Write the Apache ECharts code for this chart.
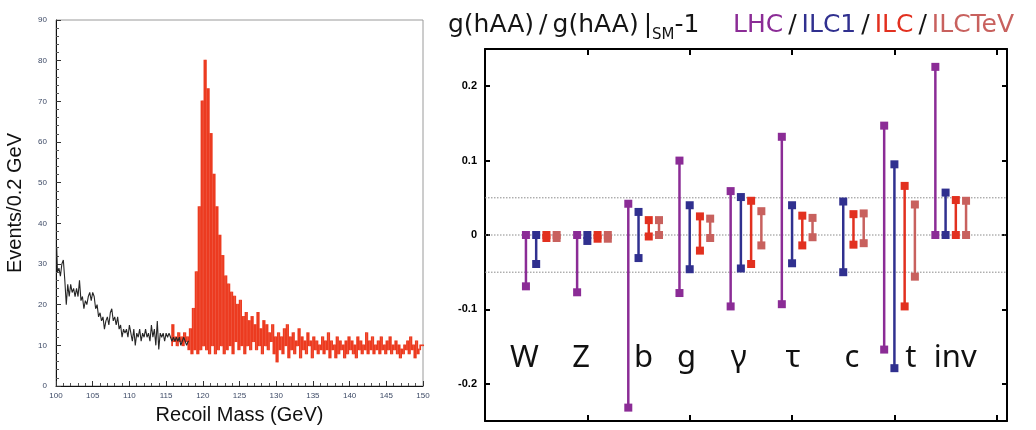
<!DOCTYPE html>
<html>
<head>
<meta charset="utf-8">
<script src="https://cdn.jsdelivr.net/npm/echarts@6/dist/echarts.min.js"></script>
<style>
  html, body { margin: 0; padding: 0; background: #fff; }
  #main { width: 1036px; height: 430px; }
</style>
</head>
<body>
<div id="main"></div>
<script>
// ---------- left panel: recoil mass histogram (Events / 0.2 GeV) ----------
var binWidth = 0.2;
var blackStart = 100.0;
var blackCounts = [
    34, 28, 29, 27, 30, 31, 26, 20, 25, 22,
    25, 23, 24, 22, 24, 22, 26, 21, 22, 19,
    21, 20, 22, 23, 21, 23, 22, 19, 20, 17,
    18, 16, 17, 14, 16, 17, 15, 18, 19, 16,
    17, 15, 17, 14, 15, 12, 14, 13, 14, 12,
    15, 13, 11, 14, 10, 13, 12, 14, 11, 13,
    12, 14, 12, 13, 11, 15, 12, 14, 10, 16,
    9, 13, 12, 13, 11, 13, 12, 13, 12, 11,
    12, 11, 12, 11, 12, 10, 11, 12, 11, 10, 11
];
var redStart = 115.6;
var redCounts = [
    10, 15, 11, 12, 10, 13, 11, 12, 10, 13,
    11, 12, 9, 14, 8, 19, 9, 28, 8, 44,
    9, 70, 10, 80, 9, 73, 8, 62, 10, 52,
    8, 44, 9, 37, 10, 32, 8, 27, 9, 25,
    10, 23, 8, 22, 11, 20, 9, 21, 10, 17,
    8, 18, 10, 16, 9, 17, 11, 15, 9, 18,
    10, 14, 8, 16, 10, 15, 9, 13, 11, 15,
    8, 12, 6, 13, 9, 12, 8, 14, 10, 15,
    7, 12, 9, 13, 8, 11, 10, 14, 7, 12,
    9, 11, 8, 13, 10, 11, 7, 12, 9, 11,
    8, 10, 9, 12, 8, 11, 9, 13, 7, 11,
    9, 10, 7, 12, 8, 11, 9, 10, 7, 11,
    8, 12, 9, 11, 8, 10, 7, 12, 9, 11,
    8, 10, 9, 13, 8, 11, 9, 12, 8, 10,
    9, 11, 8, 12, 9, 10, 8, 11, 9, 12,
    8, 10, 9, 11, 8, 10, 7, 9, 8, 10,
    9, 11, 8, 12, 9, 10, 7, 11, 8, 9,
    10, 10
];

// ---------- right panel: coupling deviations ----------
var channels = ['W', 'Z', 'b', 'g', '\u03b3', '\u03c4', 'c', 't', 'inv'];
var experiments = ['LHC', 'ILC1', 'ILC', 'ILCTeV'];
var lhcUp    = [0, 0, 0.042, 0.100, 0.059, 0.132, null, 0.147, 0.226];
var lhcDown  = [-0.069, -0.077, -0.232, -0.078, -0.096, -0.093, null, -0.154, 0];
var ilc1Up   = [0, 0, 0.031, 0.040, 0.051, 0.040, 0.045, 0.095, 0.057];
var ilc1Down = [-0.039, -0.008, -0.031, -0.046, -0.045, -0.038, -0.050, -0.179, 0];
var ilcUp    = [0, 0, 0.020, 0.025, 0.046, 0.026, 0.028, 0.066, 0.047];
var ilcDown  = [-0.004, -0.005, -0.002, -0.021, -0.039, -0.014, -0.013, -0.096, 0];
var tevUp    = [0, 0, 0.020, 0.022, 0.032, 0.023, 0.029, 0.041, 0.046];
var tevDown  = [-0.004, -0.005, 0, -0.004, -0.014, -0.003, -0.011, -0.056, 0];
var guideLevels = [0.05, 0, -0.05];
var yTicks = [-0.2, -0.1, 0, 0.1, 0.2];

// layout in x-axis units (one unit = one top/bottom tick)
var groupStart = 0.4, groupStep = 0.5, barStep = 0.1;
var labelX = [0.385, 0.94, 1.55, 1.97, 2.48, 3.01, 3.585, 4.16, 4.595];
var labelY = -0.166;

var colors = ['#8b2c96', '#30308f', '#e2301f', '#c8615e'];

function steps(start, counts) {
    var out = [];
    for (var i = 0; i < counts.length; i++) {
        out.push([start + (i + 0.5) * binWidth, counts[i]]);
    }
    return out;
}

// each item: bin centre, this bin, next bin  -> the riser between them
function risers(start, counts) {
    var out = [];
    for (var i = 0; i < counts.length; i++) {
        var next = i + 1 < counts.length ? counts[i + 1] : counts[i];
        out.push([start + (i + 0.5) * binWidth, counts[i], next]);
    }
    return out;
}

function renderRiser(params, api) {
    var x0 = api.value(0);
    var a = api.coord([x0, api.value(1)]);
    var b = api.coord([x0 + binWidth, api.value(2)]);
    var top = Math.min(a[1], b[1]) - 0.8;
    var bottom = Math.max(a[1], b[1]) + 0.8;
    return {
        type: 'rect',
        shape: { x: a[0], y: top, width: b[0] - a[0] + 0.3, height: bottom - top },
        style: { fill: api.visual('color') }
    };
}

function bars(j, up, down) {
    var out = [];
    for (var i = 0; i < channels.length; i++) {
        if (up[i] == null) continue;
        out.push([groupStart + i * groupStep + j * barStep, down[i], up[i]]);
    }
    return out;
}

function renderBar(params, api) {
    var x = api.value(0);
    var lo = api.coord([x, api.value(1)]);
    var hi = api.coord([x, api.value(2)]);
    var c = api.visual('color');
    var s = 8;
    return {
        type: 'group',
        children: [
            { type: 'line', shape: { x1: hi[0], y1: hi[1], x2: lo[0], y2: lo[1] },
              style: { stroke: c, lineWidth: 2.5 } },
            { type: 'rect', shape: { x: hi[0] - s / 2, y: hi[1] - s / 2, width: s, height: s },
              style: { fill: c } },
            { type: 'rect', shape: { x: lo[0] - s / 2, y: lo[1] - s / 2, width: s, height: s },
              style: { fill: c } }
        ]
    };
}

var chart = echarts.init(document.getElementById('main'), null, { renderer: 'canvas' });

var smallTick = { fontSize: 8, color: '#3d4a66', fontFamily: 'Liberation Sans' };
var frameLine = { show: true, onZero: false, lineStyle: { color: '#000', width: 2 } };

var series = [
    {
        type: 'line', xAxisIndex: 0, yAxisIndex: 0, step: 'middle',
        showSymbol: false, silent: true,
        lineStyle: { color: '#262626', width: 1.1 },
        data: steps(blackStart, blackCounts)
    },
    {
        type: 'custom', xAxisIndex: 0, yAxisIndex: 0, silent: true,
        itemStyle: { color: '#ec3b20' },
        data: risers(redStart, redCounts),
        renderItem: renderRiser
    },
    {
        type: 'custom', xAxisIndex: 1, yAxisIndex: 1, silent: true,
        data: guideLevels.map(function (v) { return [0, v]; }),
        renderItem: function (params, api) {
            var y = api.coord([0, api.value(1)])[1];
            var cs = params.coordSys;
            return { type: 'line', shape: { x1: cs.x, y1: y, x2: cs.x + cs.width, y2: y },
                     style: { stroke: '#8a8a8a', lineWidth: 1, lineDash: [1.5, 1.5] } };
        }
    }
];

var ups = [lhcUp, ilc1Up, ilcUp, tevUp];
var downs = [lhcDown, ilc1Down, ilcDown, tevDown];
for (var j = 0; j < experiments.length; j++) {
    series.push({
        type: 'custom', name: experiments[j], xAxisIndex: 1, yAxisIndex: 1,
        silent: true, itemStyle: { color: colors[j] },
        data: bars(j, ups[j], downs[j]),
        renderItem: renderBar
    });
}

series.push({
    type: 'custom', xAxisIndex: 1, yAxisIndex: 1, silent: true,
    data: channels.map(function (c, i) { return [labelX[i], labelY]; }),
    renderItem: function (params, api) {
        var p = api.coord([api.value(0), api.value(1)]);
        return { type: 'text',
                 style: { text: channels[params.dataIndex], x: p[0], y: p[1],
                          align: 'center', verticalAlign: 'middle',
                          font: '31px "Noto Sans"', fill: '#111' } };
    }
});

chart.setOption({
    animation: false,
    backgroundColor: '#fff',
    title: [
        {
            left: 443, top: 2,
            text: 'g(hAA)\u2009/\u2009g(hAA)\u2009|{sub|SM}-1',
            textStyle: {
                fontFamily: 'DejaVu Sans', fontSize: 25, fontWeight: 'normal',
                color: '#141414', lineHeight: 36,
                rich: { sub: { fontFamily: 'DejaVu Sans', fontSize: 15, lineHeight: 14,
                               verticalAlign: 'bottom', color: '#141414' } }
            }
        },
        {
            left: 728, top: 2,
            text: '{lhc|LHC}\u2009/\u2009{ilc1|ILC1}\u2009/\u2009{ilc|ILC}\u2009/\u2009{tev|ILCTeV}',
            textStyle: {
                fontFamily: 'DejaVu Sans', fontSize: 25, fontWeight: 'normal',
                color: '#141414', lineHeight: 36,
                rich: {
                    lhc: { color: colors[0], fontFamily: 'DejaVu Sans', fontSize: 25, lineHeight: 36 },
                    ilc1: { color: colors[1], fontFamily: 'DejaVu Sans', fontSize: 25, lineHeight: 36 },
                    ilc: { color: colors[2], fontFamily: 'DejaVu Sans', fontSize: 25, lineHeight: 36 },
                    tev: { color: colors[3], fontFamily: 'DejaVu Sans', fontSize: 25, lineHeight: 36 }
                }
            }
        }
    ],
    grid: [
        { left: 56, right: 613, top: 20, bottom: 43, show: true, borderColor: '#9a9a9a', borderWidth: 1 },
        { left: 485, right: 29, top: 49, bottom: 9 }
    ],
    xAxis: [
        {
            type: 'value', gridIndex: 0, min: 100, max: 150, interval: 5,
            axisLine: { show: true, onZero: false, lineStyle: { color: '#111', width: 1 } },
            axisTick: { inside: true, length: 5, lineStyle: { color: '#333' } },
            minorTick: { show: true, splitNumber: 5, length: 3, lineStyle: { color: '#555' } },
            splitLine: { show: false },
            axisLabel: Object.assign({ margin: 6 }, smallTick),
            name: 'Recoil Mass (GeV)', nameLocation: 'middle', nameGap: 19,
            nameTextStyle: { fontFamily: 'Liberation Sans', fontSize: 20, color: '#111' }
        },
        {
            type: 'value', gridIndex: 1, position: 'bottom', min: 0, max: 5.1, interval: 1,
            axisLine: frameLine,
            axisTick: { inside: true, length: 6, lineStyle: { color: '#000', width: 2 } },
            axisLabel: { show: false }, splitLine: { show: false }
        },
        {
            type: 'value', gridIndex: 1, position: 'top', min: 0, max: 5.1, interval: 1,
            axisLine: frameLine,
            axisTick: { inside: true, length: 6, lineStyle: { color: '#000', width: 2 } },
            axisLabel: { show: false }, splitLine: { show: false }
        }
    ],
    yAxis: [
        {
            type: 'value', gridIndex: 0, min: 0, max: 90, interval: 10,
            axisLine: { show: true, onZero: false, lineStyle: { color: '#111', width: 1 } },
            axisTick: { show: true, inside: true, length: 5, lineStyle: { color: '#333' } },
            minorTick: { show: true, splitNumber: 5, length: 3, lineStyle: { color: '#555' } },
            splitLine: { show: false },
            axisLabel: Object.assign({ margin: 9 }, smallTick),
            name: 'Events/0.2 GeV', nameLocation: 'middle', nameGap: 31,
            nameTextStyle: { fontFamily: 'Liberation Sans', fontSize: 20, color: '#111' }
        },
        {
            type: 'value', gridIndex: 1, position: 'left', min: -0.25, max: 0.25,
            axisLine: frameLine,
            axisTick: { inside: true, length: 5, customValues: yTicks, lineStyle: { color: '#000', width: 2 } },
            axisLabel: { customValues: yTicks, margin: 8, fontSize: 11, fontWeight: 'bold',
                         fontFamily: 'Liberation Sans', color: '#000' },
            splitLine: { show: false }
        },
        {
            type: 'value', gridIndex: 1, position: 'right', min: -0.25, max: 0.25,
            axisLine: frameLine,
            axisTick: { inside: true, length: 5, customValues: yTicks, lineStyle: { color: '#000', width: 2 } },
            axisLabel: { show: false }, splitLine: { show: false }
        }
    ],
    series: series
});
</script>
</body>
</html>
